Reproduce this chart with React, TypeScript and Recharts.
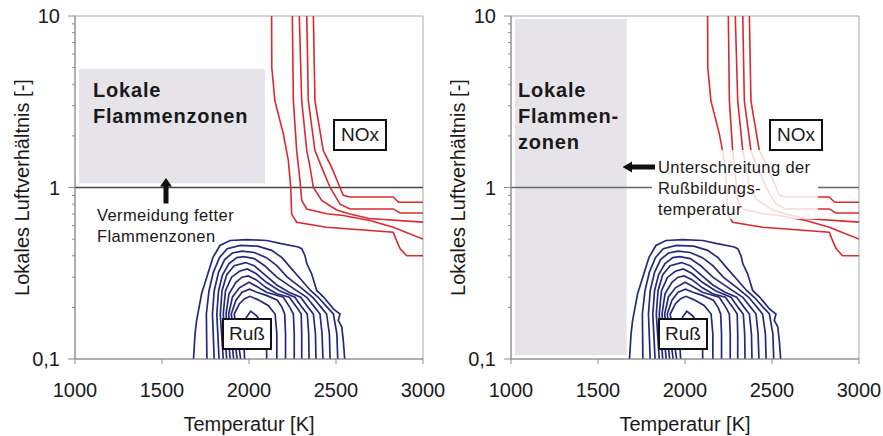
import React from "react";
import { LineChart, Line, XAxis, YAxis, ReferenceArea, ReferenceLine } from "recharts";

// axes
const X_TICKS = [1000, 1500, 2000, 2500, 3000];
const Y_MAJOR = [0.1, 1, 10];
const Y_MINOR = [0.2, 0.3, 0.4, 0.5, 0.6, 0.7, 0.8, 0.9, 2, 3, 4, 5, 6, 7, 8, 9];
const Y_LABELS: Record<string, string> = { "0.1": "0,1", "1": "1", "10": "10" };

// NOx contours [T, lambda]
const NOX_A: [number, number][] = [[2130, 10], [2131, 5], [2149, 3.2], [2197, 2.06], [2226, 1.44], [2240, 1.0], [2245, 0.7], [2274, 0.627], [2446, 0.586], [2829, 0.548], [2848, 0.49], [2868, 0.44], [2906, 0.4], [3000, 0.4]];
const NOX_B: [number, number][] = [[2249, 10], [2255, 3.2], [2274, 1.64], [2293, 1.1], [2303, 0.84], [2332, 0.75], [2446, 0.703], [2542, 0.687], [2695, 0.642], [2829, 0.586], [3000, 0.5]];
const NOX_C: [number, number][] = [[2289, 10], [2303, 3.2], [2332, 1.64], [2351, 1.31], [2370, 1.0], [2418, 0.84], [2504, 0.74], [2580, 0.7], [2690, 0.66], [3000, 0.628]];
const NOX_D: [number, number][] = [[2332, 10], [2341, 3.2], [2379, 1.64], [2418, 1.31], [2466, 1.0], [2523, 0.8], [2580, 0.75], [2829, 0.75], [2868, 0.71], [3000, 0.71]];
const NOX_E: [number, number][] = [[2370, 10], [2379, 3.2], [2427, 1.64], [2475, 1.31], [2523, 1.0], [2542, 0.9], [2580, 0.88], [2829, 0.88], [2860, 0.82], [3000, 0.82]];

// soot (Ruß) contours [T, lambda]
const RUSS_1: [number, number][] = [[1681, 0.1], [1690, 0.14], [1699, 0.168], [1728, 0.241], [1764, 0.315], [1793, 0.391], [1833, 0.459], [1891, 0.491], [1987, 0.497], [2102, 0.491], [2178, 0.472], [2283, 0.45], [2303, 0.44], [2322, 0.4], [2332, 0.36], [2360, 0.314], [2389, 0.251], [2430, 0.229], [2485, 0.196], [2523, 0.183], [2513, 0.168], [2533, 0.154], [2542, 0.128], [2550, 0.1]];
const RUSS_2: [number, number][] = [[1758, 0.1], [1755, 0.183], [1770, 0.25], [1795, 0.32], [1830, 0.39], [1875, 0.44], [1950, 0.46], [2050, 0.455], [2130, 0.43], [2190, 0.39], [2240, 0.34], [2300, 0.29], [2355, 0.25], [2398, 0.229], [2450, 0.2], [2485, 0.183], [2505, 0.14], [2510, 0.1]];
const RUSS_3: [number, number][] = [[1800, 0.1], [1790, 0.183], [1800, 0.25], [1825, 0.32], [1860, 0.38], [1905, 0.415], [1960, 0.425], [2030, 0.418], [2100, 0.39], [2160, 0.35], [2220, 0.3], [2300, 0.26], [2366, 0.229], [2415, 0.2], [2446, 0.183], [2462, 0.14], [2466, 0.1]];
const RUSS_4: [number, number][] = [[1828, 0.1], [1815, 0.183], [1825, 0.25], [1848, 0.31], [1885, 0.36], [1930, 0.39], [1970, 0.395], [2030, 0.385], [2090, 0.35], [2160, 0.3], [2250, 0.26], [2332, 0.229], [2378, 0.2], [2408, 0.183], [2420, 0.14], [2425, 0.1]];
const RUSS_5: [number, number][] = [[1852, 0.1], [1835, 0.183], [1845, 0.25], [1872, 0.31], [1915, 0.35], [1980, 0.365], [2030, 0.35], [2090, 0.31], [2160, 0.27], [2230, 0.245], [2297, 0.229], [2340, 0.2], [2370, 0.183], [2382, 0.14], [2385, 0.1]];
const RUSS_6: [number, number][] = [[1872, 0.1], [1852, 0.183], [1865, 0.25], [1900, 0.3], [1945, 0.325], [1990, 0.335], [2040, 0.315], [2100, 0.28], [2175, 0.25], [2264, 0.229], [2305, 0.2], [2335, 0.183], [2343, 0.14], [2345, 0.1]];
const RUSS_7: [number, number][] = [[1892, 0.1], [1868, 0.183], [1885, 0.24], [1925, 0.28], [1960, 0.3], [1995, 0.305], [2040, 0.29], [2100, 0.26], [2160, 0.24], [2232, 0.229], [2275, 0.2], [2300, 0.183], [2303, 0.14], [2303, 0.1]];
const RUSS_8: [number, number][] = [[1912, 0.1], [1883, 0.183], [1905, 0.23], [1945, 0.26], [2000, 0.28], [2045, 0.265], [2100, 0.245], [2197, 0.229], [2235, 0.2], [2255, 0.183], [2260, 0.14], [2260, 0.1]];
const RUSS_9: [number, number][] = [[1932, 0.1], [1898, 0.183], [1925, 0.22], [1960, 0.245], [2003, 0.255], [2045, 0.245], [2100, 0.235], [2163, 0.22], [2190, 0.2], [2205, 0.183], [2210, 0.14], [2210, 0.1]];
const RUSS_10: [number, number][] = [[1952, 0.1], [1915, 0.183], [1945, 0.21], [1975, 0.225], [2005, 0.232], [2050, 0.222], [2110, 0.205], [2150, 0.183], [2160, 0.14], [2160, 0.1]];
const RUSS_11: [number, number][] = [[1975, 0.1], [1965, 0.15], [1985, 0.175], [2010, 0.19], [2040, 0.18], [2080, 0.16], [2100, 0.13], [2102, 0.1]];

const NOX = [NOX_A, NOX_B, NOX_C, NOX_D, NOX_E];
const RUSS = [RUSS_1, RUSS_2, RUSS_3, RUSS_4, RUSS_5, RUSS_6, RUSS_7, RUSS_8, RUSS_9, RUSS_10, RUSS_11];

const toRows = (pts: [number, number][]) => pts.map(([t, l]) => ({ t, l }));

const RED = "#d92a2e";
const NAVY = "#252b7c";
const AXIS = "#8a8a8a";
const INK = "#1a1a1a";
const FONT = '"Liberation Sans", Arial, sans-serif';

const YTick = (props: any) => {
    const { x, y, payload } = props;
    const v = payload.value;
    const label = Y_LABELS[String(v)];
    const ax = x + 15;
    return (
        <g>
            <line x1={ax - (label ? 7 : 3)} x2={ax} y1={y} y2={y} stroke={AXIS} />
            {label && (
                <text x={x} y={y} dy="0.355em" textAnchor="end" fill={INK} fontSize={20}>
                    {label}
                </text>
            )}
        </g>
    );
};

interface PanelProps {
    left: number;
    band: { x1: number; x2: number; y1: number; y2: number };
    splitLine?: boolean;
}

function Panel({ left, band, splitLine }: PanelProps) {
    return (
        <div style={{ position: "absolute", left, top: 0 }}>
            <LineChart width={460} height={436} margin={{ top: 16, right: 37, bottom: 0, left: 0 }}>
                <XAxis
                    dataKey="t"
                    type="number"
                    domain={[1000, 3000]}
                    ticks={X_TICKS}
                    allowDataOverflow
                    height={77}
                    tickSize={5}
                    tickMargin={19}
                    stroke={AXIS}
                    tick={{ fill: INK, fontSize: 20 }}
                    label={{ value: "Temperatur [K]", position: "insideBottom", offset: 5, fill: INK, fontSize: 20 }}
                />
                <YAxis
                    dataKey="l"
                    scale="log"
                    domain={[0.1, 10]}
                    allowDataOverflow
                    ticks={[...Y_MAJOR, ...Y_MINOR]}
                    interval={0}
                    width={75}
                    tickSize={7}
                    tickMargin={8}
                    tickLine={false}
                    stroke={AXIS}
                    tick={YTick}
                    label={{
                        value: "Lokales Luftverhältnis [-]",
                        angle: -90,
                        position: "insideLeft",
                        offset: 22,
                        fill: INK,
                        fontSize: 20,
                        style: { textAnchor: "middle" },
                    }}
                />
                <ReferenceArea x1={band.x1} x2={band.x2} y1={band.y1} y2={band.y2} fill="#e6e4e9" fillOpacity={1} stroke="none" />
                <ReferenceArea x1={1000} x2={3000} y1={0.1} y2={10} fill="none" stroke="#a8a8a8" />
                {splitLine ? (
                    <>
                        <ReferenceLine segment={[{ x: 1000, y: 1 }, { x: 1810, y: 1 }]} stroke="#666" strokeWidth={1.4} />
                        <ReferenceLine segment={[{ x: 2764, y: 1 }, { x: 3000, y: 1 }]} stroke="#666" strokeWidth={1.4} />
                    </>
                ) : (
                    <ReferenceLine y={1} stroke="#444" strokeWidth={1.6} />
                )}
                {RUSS.map((pts, i) => (
                    <Line
                        key={`r${i}`}
                        data={toRows(pts)}
                        dataKey="l"
                        type="linear"
                        stroke={NAVY}
                        strokeWidth={1.7}
                        dot={false}
                        activeDot={false}
                        isAnimationActive={false}
                    />
                ))}
                {NOX.map((pts, i) => (
                    <Line
                        key={`n${i}`}
                        data={toRows(pts)}
                        dataKey="l"
                        type="linear"
                        stroke={RED}
                        strokeWidth={1.6}
                        dot={false}
                        activeDot={false}
                        isAnimationActive={false}
                    />
                ))}
            </LineChart>
        </div>
    );
}

const boxStyle: React.CSSProperties = {
    position: "absolute",
    border: "2px solid #111",
    background: "#fff",
    boxSizing: "border-box",
    fontSize: 19,
    color: INK,
    display: "flex",
    alignItems: "center",
    justifyContent: "center",
};

const titleStyle: React.CSSProperties = {
    position: "absolute",
    fontWeight: "bold",
    fontSize: 20,
    lineHeight: "26px",
    letterSpacing: 0.8,
    color: INK,
    whiteSpace: "pre",
};

const noteStyle: React.CSSProperties = {
    position: "absolute",
    fontSize: 16.5,
    lineHeight: "21px",
    letterSpacing: 0.4,
    color: INK,
    whiteSpace: "pre",
};

export default function App() {
    return (
        <div style={{ position: "absolute", left: 0, top: 0, width: 883, height: 436, background: "#fff", fontFamily: FONT, overflow: "hidden" }}>
            <Panel left={0} band={{ x1: 1023, x2: 2092, y1: 1.06, y2: 4.92 }} />
            <Panel left={436} band={{ x1: 1023, x2: 1665, y1: 0.105, y2: 9.6 }} splitLine />

            {/* left panel notes */}
            <div style={{ ...titleStyle, left: 93, top: 77 }}>{"Lokale\nFlammenzonen"}</div>
            <div style={{ ...noteStyle, left: 97, top: 205 }}>{"Vermeidung fetter\nFlammenzonen"}</div>
            <div style={{ ...boxStyle, left: 333, top: 119, width: 54, height: 32 }}>NOx</div>
            <div style={{ ...boxStyle, left: 222, top: 318, width: 50, height: 32 }}>Ruß</div>

            {/* right panel notes */}
            <div style={{ position: "absolute", left: 652, top: 150, width: 166, height: 69, background: "rgba(255,255,255,0.82)" }} />
            <div style={{ ...titleStyle, left: 518, top: 77 }}>{"Lokale\nFlammen-\nzonen"}</div>
            <div style={{ ...noteStyle, left: 658, top: 157 }}>{"Unterschreitung der\nRußbildungs-\ntemperatur"}</div>
            <div style={{ ...boxStyle, left: 769, top: 119, width: 54, height: 32 }}>NOx</div>
            <div style={{ ...boxStyle, left: 658, top: 318, width: 50, height: 32 }}>Ruß</div>

            <svg width={883} height={436} style={{ position: "absolute", left: 0, top: 0, pointerEvents: "none" }}>
                <polygon points="166,178 172,186.5 168.5,186.5 168.5,203.5 163.5,203.5 163.5,186.5 160,186.5" fill="#111" />
                <polygon points="622.5,167 632,161.5 632,164.5 655,164.5 655,169.5 632,169.5 632,172.5" fill="#111" />
            </svg>
        </div>
    );
}
